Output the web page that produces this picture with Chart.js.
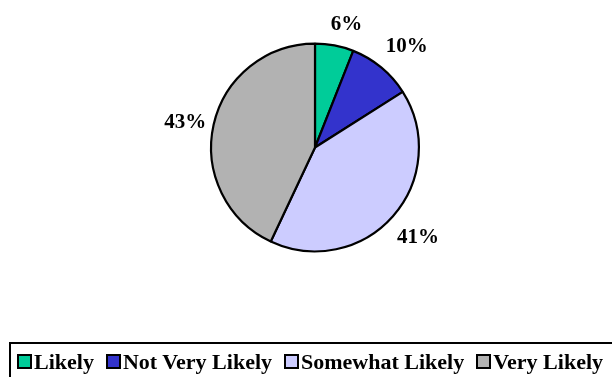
<!DOCTYPE html>
<html>
<head>
<meta charset="utf-8">
<script src="https://cdn.jsdelivr.net/npm/chart.js@4.4.1/dist/chart.umd.min.js"></script>
<style>
  html, body { margin: 0; padding: 0; background: #fff; }
  #wrap { position: relative; width: 612px; height: 377px; overflow: hidden; }
  #leyenda {
    position: absolute; left: 9px; top: 342px; width: 640px; height: 60px;
    border-left: 2px solid #000; border-top: 2px solid #000;
    box-sizing: border-box; padding-left: 6px; padding-top: 6px;
    font-family: "Liberation Serif", "Times New Roman", serif;
    font-weight: bold; font-size: 22px; line-height: 24px; white-space: nowrap;
  }
  .item { display: inline-block; margin-right: 12px; }
  .caja {
    display: inline-block; width: 11px; height: 11px; border: 2px solid #000;
    margin-right: 2px; vertical-align: 0px;
  }
</style>
</head>
<body>
<div id="wrap">
  <canvas id="grafico" width="612" height="377"></canvas>
  <div id="leyenda"></div>
</div>
<script>
const categorias = ["Likely", "Not Very Likely", "Somewhat Likely", "Very Likely"];
const porcentajes = [6, 10, 41, 43];
const colores = ["#00CC99", "#3333CC", "#CCCCFF", "#B2B2B2"];

// empujones finos para las etiquetas de porcentaje
const ajusteEtiquetas = [[6, 11], [5, 3.5], [1, 0.5], [3, 4.5]];

const ctx = document.getElementById("grafico");

// etiquetas de porcentaje fuera del pastel
const etiquetasFuera = {
  id: "etiquetasFuera",
  afterDatasetsDraw(chart) {
    const c = chart.ctx;
    const meta = chart.getDatasetMeta(0);
    c.save();
    c.font = "bold 21px 'Liberation Serif', serif";
    c.fillStyle = "#000";
    c.textAlign = "center";
    c.textBaseline = "middle";
    meta.data.forEach((arco, i) => {
      const medio = (arco.startAngle + arco.endAngle) / 2;
      const dist = arco.outerRadius + 32;
      const x = arco.x + Math.cos(medio) * dist + ajusteEtiquetas[i][0];
      const y = arco.y + Math.sin(medio) * dist + ajusteEtiquetas[i][1];
      c.fillText(porcentajes[i] + "%", x, y);
    });
    c.restore();
  }
};

new Chart(ctx, {
  type: "pie",
  data: {
    labels: categorias,
    datasets: [{
      data: porcentajes,
      backgroundColor: colores,
      borderColor: "#000",
      borderWidth: 2.2,
      hoverOffset: 0,
    }],
  },
  options: {
    responsive: false,
    animation: false,
    layout: {
      padding: { top: 42.5, bottom: 124.5, left: 210, right: 192 }
    },
    plugins: {
      legend: { display: false },
      tooltip: { enabled: false }
    }
  },
  plugins: [etiquetasFuera]
});

// leyenda en html dentro del recuadro
const leyenda = document.getElementById("leyenda");
categorias.forEach((cat, i) => {
  leyenda.innerHTML += `<span class="item"><span class="caja" style="background:${colores[i]}"></span>${cat}</span>`;
});
</script>
</body>
</html>
